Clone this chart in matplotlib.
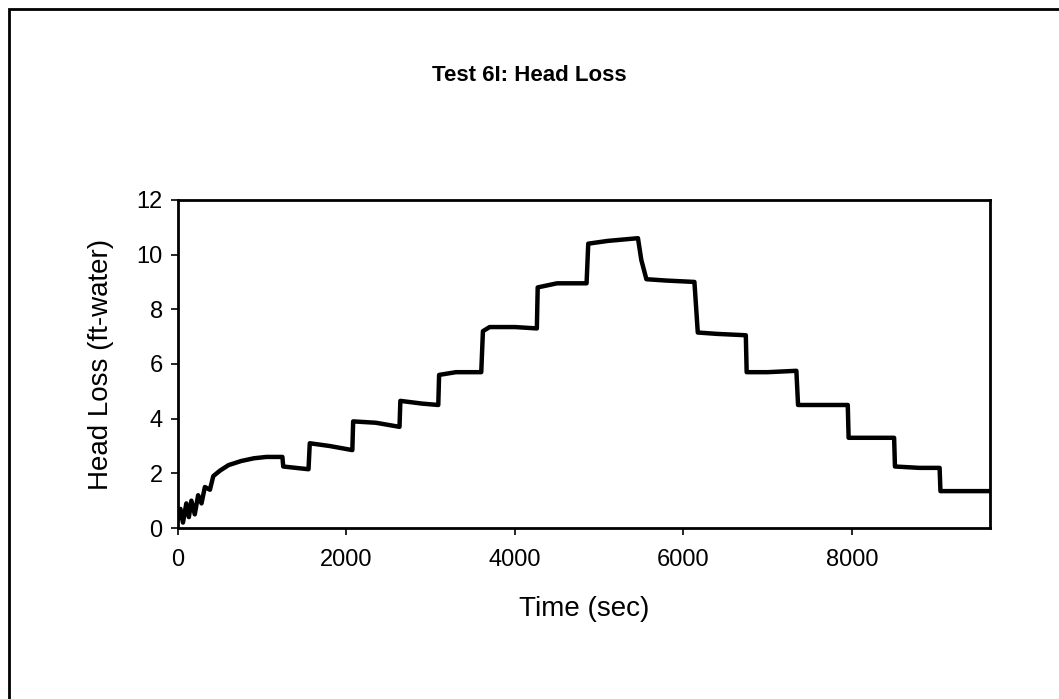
import matplotlib
matplotlib.use("Agg")
import matplotlib.pyplot as plt
from matplotlib.patches import Rectangle

plt.rcParams['font.family'] = ['Liberation Sans', 'DejaVu Sans']

# head loss trace (time in sec, head in ft-water)
time_sec = [0, 30, 60, 100, 130, 160, 200, 240, 280, 320, 380, 420, 500, 600, 750,
            900, 1050, 1240,
            1250, 1550,
            1565, 1800, 2070,
            2080, 2350, 2630,
            2640, 2900, 3090,
            3100, 3300, 3600,
            3620, 3700, 4000, 4260,
            4270, 4500, 4850,
            4870, 5100, 5460,
            5500, 5560, 5800, 6130,
            6170, 6400, 6740,
            6750, 7000, 7340,
            7360, 7700, 7950,
            7960, 8200, 8500,
            8510, 8800, 9040,
            9050, 9300, 9620]
head_loss = [0.3, 0.7, 0.2, 0.9, 0.4, 1.0, 0.5, 1.2, 0.9, 1.5, 1.4, 1.9, 2.1, 2.3, 2.45,
             2.55, 2.6, 2.6,
             2.25, 2.15,
             3.1, 3.0, 2.85,
             3.9, 3.85, 3.7,
             4.65, 4.55, 4.5,
             5.6, 5.7, 5.7,
             7.2, 7.35, 7.35, 7.3,
             8.8, 8.95, 8.95,
             10.4, 10.5, 10.6,
             9.8, 9.1, 9.05, 9.0,
             7.15, 7.1, 7.05,
             5.7, 5.7, 5.75,
             4.5, 4.5, 4.5,
             3.3, 3.3, 3.3,
             2.25, 2.2, 2.2,
             1.35, 1.35, 1.35]

x_ticks = [0, 2000, 4000, 6000, 8000]
y_ticks = [0, 2, 4, 6, 8, 10, 12]

fig = plt.figure(figsize=(10.59, 6.99), dpi=100)
ax = fig.add_axes([0.168, 0.2446, 0.767, 0.4694])

ax.plot(time_sec, head_loss, color='black', lw=3.2)

ax.set_xlim(0, 9640)
ax.set_ylim(0, 12)
ax.set_xticks(x_ticks)
ax.set_yticks(y_ticks)
ax.tick_params(direction='out', length=5, width=1.2, labelsize=17)
ax.tick_params(axis='x', pad=10)
ax.tick_params(axis='y', pad=6)
for s in ax.spines.values():
    s.set_linewidth(2)

ax.set_xlabel('Time (sec)', fontsize=20, labelpad=18)
ax.set_ylabel('Head Loss (ft-water)', fontsize=20, labelpad=16)
fig.text(0.5, 0.892, 'Test 6I: Head Loss', ha='center', va='center',
         fontsize=16, fontweight='bold')

# outer chart frame (right and bottom edges fall outside the scan)
fig.patches.append(Rectangle((9 / 1059, -0.1), 1.2, 1.1 - 9 / 699,
                             transform=fig.transFigure, fill=False,
                             edgecolor='black', lw=2))

fig.savefig('out.png', dpi=100)
